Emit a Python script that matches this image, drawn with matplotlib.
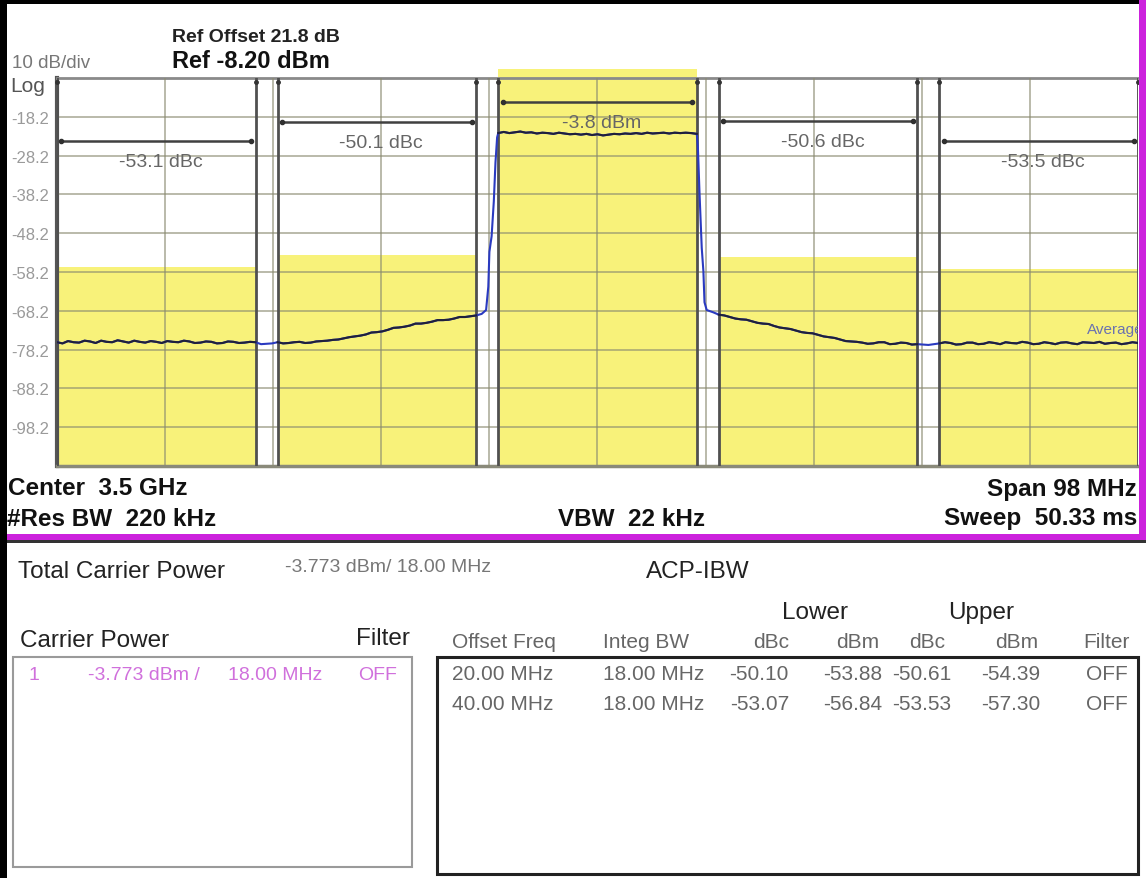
import matplotlib
matplotlib.use("Agg")
import matplotlib.pyplot as plt
import matplotlib.transforms as mtransforms
from matplotlib.patches import Rectangle
import numpy as np

plt.rcParams['font.family'] = ['Liberation Sans', 'DejaVu Sans']

# ---------------- data ----------------
REF_LEVEL = -8.20
DB_PER_DIV = 10
SPAN_MHZ = 98
X_GRID_MHZ = [-49, -39.2, -29.4, -19.6, -9.8, 0, 9.8, 19.6, 29.4, 39.2, 49]
Y_TICK_LABELS = ['-18.2', '-28.2', '-38.2', '-48.2', '-58.2', '-68.2', '-78.2', '-88.2', '-98.2']

BAND_OFFSETS_MHZ = [-40, -20, 0, 20, 40]
INTEG_BW_MHZ = 18.0
CARRIER_DBM = -3.773
BAND_POWER_DBM = [-56.84, -53.88, CARRIER_DBM, -54.39, -57.30]
BAND_DBC = [-53.07, -50.10, None, -50.61, -53.53]
BRACKET_LEVEL = [-24.5, -19.6, -14.4, -19.4, -24.5]

# (frequency offset MHz, level dBm)
TRACE_POINTS = [
    (-49, -76.3), (-48.5, -76.6), (-48, -76.0), (-47.5, -76.3), (-47, -76.4), (-46.5, -75.9),
    (-46, -76.1), (-45.5, -76.5), (-45, -75.9), (-44.5, -76.2), (-44, -76.3), (-43.5, -75.8),
    (-43, -76.1), (-42.5, -76.4), (-42, -75.9), (-41.5, -76.2), (-41, -76.4), (-40.5, -76.0),
    (-40, -76.2), (-39.5, -76.5), (-39, -76.0), (-38.5, -76.2), (-38, -76.3), (-37.5, -75.9),
    (-37, -76.1), (-36.5, -76.5), (-36, -76.4), (-35.5, -76.1), (-35, -76.2), (-34.5, -76.6),
    (-34, -76.5), (-33.5, -76.1), (-33, -76.2), (-32.5, -76.5), (-32, -76.4), (-31.5, -76.2),
    (-31, -76.3), (-30.5, -76.8), (-30, -76.7), (-29.5, -76.6), (-29, -76.3), (-28.5, -76.6),
    (-28, -76.5), (-27.5, -76.3), (-27, -76.2), (-26.5, -76.5), (-26, -76.4), (-25.5, -76.1),
    (-25, -76.0), (-24.5, -75.9), (-24, -75.7), (-23.5, -75.6), (-23, -75.3), (-22.5, -75.0),
    (-22, -74.8), (-21.5, -74.6), (-21, -74.3), (-20.5, -73.8), (-20, -73.7), (-19.5, -73.5),
    (-19, -73.1), (-18.5, -72.6), (-18, -72.5), (-17.5, -72.3), (-17, -72.0), (-16.5, -71.5),
    (-16, -71.5), (-15.5, -71.3), (-15, -71.0), (-14.5, -70.6), (-14, -70.6), (-13.5, -70.5),
    (-13, -70.2), (-12.5, -69.8), (-12, -69.8), (-11.5, -69.6), (-11, -69.4), (-10.5, -69.0),
    (-10.1, -68.0), (-9.9, -62.0), (-9.8, -53.0), (-9.6, -49.0), (-9.4, -40.0),
    (-9.25, -30.0), (-9.1, -23.5), (-9.0, -22.4),
    (-8.5, -22.1), (-8, -22.4), (-7.5, -22.2), (-7, -22.0), (-6.5, -22.3), (-6, -22.2),
    (-5.5, -22.5), (-5, -22.3), (-4.5, -22.4), (-4, -22.6), (-3.5, -22.3), (-3, -22.5),
    (-2.5, -22.7), (-2, -22.6), (-1.5, -22.8), (-1, -22.6), (-0.5, -22.9), (0, -22.7),
    (0.5, -23.0), (1, -22.8), (1.5, -22.6), (2, -22.7), (2.5, -22.5), (3, -22.6),
    (3.5, -22.4), (4, -22.6), (4.5, -22.3), (5, -22.5), (5.5, -22.4), (6, -22.3),
    (6.5, -22.5), (7, -22.3), (7.5, -22.4), (8, -22.3), (8.5, -22.4), (9.0, -22.6),
    (9.1, -26.0), (9.25, -38.0), (9.45, -52.0), (9.6, -58.0), (9.7, -66.0), (9.9, -68.0),
    (10.5, -68.6), (11, -69.2), (11.5, -69.4), (12, -69.8), (12.5, -70.2), (13, -70.4),
    (13.5, -70.5), (14, -70.9), (14.5, -71.3), (15, -71.5), (15.5, -71.6), (16, -72.1),
    (16.5, -72.5), (17, -72.7), (17.5, -72.9), (18, -73.3), (18.5, -73.7), (19, -73.9),
    (19.5, -74.0), (20, -74.4), (20.5, -74.8), (21, -75.0), (21.5, -75.2), (22, -75.6),
    (22.5, -76.0), (23, -76.1), (23.5, -76.2), (24, -76.4), (24.5, -76.7), (25, -76.6),
    (25.5, -76.3), (26, -76.3), (26.5, -76.8), (27, -76.7), (27.5, -76.4), (28, -76.5),
    (28.5, -76.9), (29, -76.8), (29.5, -76.9), (30, -77.0), (30.5, -76.8), (31, -76.6),
    (31.5, -76.3), (32, -76.5), (32.5, -76.9), (33, -76.8), (33.5, -76.4), (34, -76.4),
    (34.5, -76.8), (35, -76.7), (35.5, -76.3), (36, -76.5), (36.5, -76.8), (37, -76.3),
    (37.5, -76.5), (38, -76.6), (38.5, -76.2), (39, -76.4), (39.5, -76.8), (40, -76.7),
    (40.5, -76.3), (41, -76.5), (41.5, -76.8), (42, -76.4), (42.5, -76.3), (43, -76.6),
    (43.5, -76.8), (44, -76.3), (44.5, -76.4), (45, -76.5), (45.5, -76.2), (46, -76.7),
    (46.5, -76.5), (47, -76.4), (47.5, -76.8), (48, -76.6), (48.5, -76.3), (49, -76.5),
]
TRACE_FREQ = [p[0] for p in TRACE_POINTS]
TRACE_LEVEL = [p[1] for p in TRACE_POINTS]

OFFSET_FREQ_LABELS = ['20.00 MHz', '40.00 MHz']
INTEG_BW_LABELS = ['18.00 MHz', '18.00 MHz']
LOWER_DBC = [-50.10, -53.07]
LOWER_DBM = [-53.88, -56.84]
UPPER_DBC = [-50.61, -53.53]
UPPER_DBM = [-54.39, -57.30]
FILTER_STATE = ['OFF', 'OFF']

# ---------------- figure ----------------
W, H = 1146, 879
fig = plt.figure(figsize=(W / 100, H / 100), dpi=100)
fig.patch.set_facecolor('white')


def fx(x):
    return x / W


def fy(y):
    return 1 - y / H


def ftext(x, y, s, **kw):
    fig.text(fx(x), fy(y), s, **kw)


ax = fig.add_axes([fx(57), fy(467), fx(1138 - 57), (467 - 79) / H])
half = SPAN_MHZ / 2
ax.set_xlim(-half, half)
ytop = REF_LEVEL
ybot = REF_LEVEL - 10 * DB_PER_DIV
ax.set_ylim(ybot, ytop)
ax.set_xticks(X_GRID_MHZ)
ax.set_yticks([float(v) for v in Y_TICK_LABELS])
ax.tick_params(length=0, labelbottom=False, labelleft=False)
ax.set_axisbelow(False)
ax.grid(True, color='#8a8a70', lw=1.1, alpha=0.75)
ax.set_facecolor('white')
ax.spines['right'].set_visible(False)
ax.spines['left'].set_color('#555555')
ax.spines['left'].set_linewidth(3)
ax.spines['top'].set_color('#8a8a8a')
ax.spines['top'].set_linewidth(2)
ax.spines['bottom'].set_color('#8a8a7a')
ax.spines['bottom'].set_linewidth(2.5)

# yellow integration bands
yellow = '#f8f27a'
for off, pwr in zip(BAND_OFFSETS_MHZ, BAND_POWER_DBM):
    top = min(pwr, ytop + 2.3)
    ax.bar(off, top - ybot, bottom=ybot, width=INTEG_BW_MHZ, color=yellow,
           edgecolor='none', zorder=1, clip_on=False)

# band edge lines, brackets and labels
for i, (off, lvl) in enumerate(zip(BAND_OFFSETS_MHZ, BRACKET_LEVEL)):
    lo = off - INTEG_BW_MHZ / 2
    hi = off + INTEG_BW_MHZ / 2
    for e in (lo, hi):
        ax.axvline(e, color='#505050', lw=2, zorder=3)
        ax.plot([e], [ytop - 1.0], marker='o', ms=2.5, color='#333333', zorder=6, clip_on=False)
    ax.plot([lo + 0.4, hi - 0.4], [lvl, lvl], color='#404040', lw=1.8, zorder=6)
    ax.plot([lo + 0.4, hi - 0.4], [lvl, lvl], ls='none', marker='o', ms=3, color='#303030', zorder=6)
    if BAND_DBC[i] is None:
        lab = f'{BAND_POWER_DBM[i]:.1f} dBm'
    else:
        lab = f'{BAND_DBC[i]:.1f} dBc'
    ax.text(off + 0.4, lvl - 5.2, lab, ha='center', va='center', fontsize=14,
            color='#666666', zorder=7)

# trace
F = np.array(TRACE_FREQ)
L = np.array(TRACE_LEVEL)
ax.plot(F, L, color='#2a3ac0', lw=1.5, zorder=8)
for off in BAND_OFFSETS_MHZ:
    lo = off - INTEG_BW_MHZ / 2
    hi = off + INTEG_BW_MHZ / 2
    m = (F >= lo) & (F <= hi)
    ax.plot(F[m], L[m], color='#20203a', lw=1.5, zorder=9)

ax.text(44.4, -73.0, 'Average', color='#6a72b0', fontsize=11, va='center', ha='left',
        clip_on=True, zorder=10)

# y tick labels at left of figure, placed in data coords
trans = mtransforms.blended_transform_factory(fig.transFigure, ax.transData)
for lab in Y_TICK_LABELS:
    fig.text(fx(11), float(lab) - 0.4, lab, transform=trans, ha='left', va='center',
             fontsize=12, color='#9a9a9a')

# header texts
ftext(12, 64, '10 dB/div', fontsize=13.5, color='#777777', va='center')
ftext(10, 87, 'Log', fontsize=15, color='#555555', va='center')
ftext(172, 37, 'Ref Offset 21.8 dB', fontsize=14, fontweight='bold', color='#222222', va='center')
ftext(172, 62, 'Ref -8.20 dBm', fontsize=17, fontweight='bold', color='#111111', va='center')

# settings line
bold = dict(fontsize=17.5, fontweight='bold', color='#111111', va='center')
ftext(8, 489, 'Center  3.5 GHz', ha='left', **bold)
ftext(7, 519, '#Res BW  220 kHz', ha='left', **bold)
ftext(632, 519, 'VBW  22 kHz', ha='center', **bold)
ftext(1137, 490, 'Span 98 MHz', ha='right', **bold)
ftext(1137, 519, 'Sweep  50.33 ms', ha='right', **bold)


# panel borders
def frect(x0, y0, x1, y1, **kw):
    fig.add_artist(Rectangle((fx(x0), fy(y1)), (x1 - x0) / W, (y1 - y0) / H,
                             transform=fig.transFigure, **kw))


frect(0, 0, 7, H, color='black', lw=0)
frect(0, 0, 1139, 5, color='black', lw=0)
frect(1139, 0, W, 541, color='#cc22dd', lw=0)
frect(7, 535, W, 541, color='#cc22dd', lw=0)
frect(7, 541, W, 544, color='#333333', lw=0)

# ---------------- lower panel ----------------
black = dict(fontsize=17.5, color='#222222', va='center')
gray = dict(fontsize=15, color='#666666', va='center')
ftext(18, 572, 'Total Carrier Power', ha='left', **black)
ftext(285, 568, f'{CARRIER_DBM:.3f} dBm/ {INTEG_BW_MHZ:.2f} MHz', ha='left', fontsize=14,
      color='#777777', va='center')
ftext(698, 572, 'ACP-IBW', ha='center', **black)
ftext(20, 641, 'Carrier Power', ha='left', **black)
ftext(410, 639, 'Filter', ha='right', **black)
ftext(815, 613, 'Lower', ha='center', **black)
ftext(981, 613, 'Upper', ha='center', **black)

frect(13, 658, 412, 868, fill=False, ec='#9a9a9a', lw=1.5)
frect(437, 658, 1138, 875, fill=False, ec='#222222', lw=2.2)

pink = dict(fontsize=14, color='#d070dc', va='center')
ftext(28, 676, '1', ha='left', **pink)
ftext(88, 676, f'{CARRIER_DBM:.3f} dBm /', ha='left', **pink)
ftext(228, 676, f'{INTEG_BW_MHZ:.2f} MHz', ha='left', **pink)
ftext(358, 676, 'OFF', ha='left', **pink)

hdr_y = 643
ftext(452, hdr_y, 'Offset Freq', ha='left', **gray)
ftext(603, hdr_y, 'Integ BW', ha='left', **gray)
ftext(789, hdr_y, 'dBc', ha='right', **gray)
ftext(879, hdr_y, 'dBm', ha='right', **gray)
ftext(945, hdr_y, 'dBc', ha='right', **gray)
ftext(1038, hdr_y, 'dBm', ha='right', **gray)
ftext(1130, hdr_y, 'Filter', ha='right', **gray)

row_y = [674, 705]
for i, y in enumerate(row_y):
    ftext(452, y, OFFSET_FREQ_LABELS[i], ha='left', **gray)
    ftext(603, y, INTEG_BW_LABELS[i], ha='left', **gray)
    ftext(789, y, f'{LOWER_DBC[i]:.2f}', ha='right', **gray)
    ftext(882, y, f'{LOWER_DBM[i]:.2f}', ha='right', **gray)
    ftext(951, y, f'{UPPER_DBC[i]:.2f}', ha='right', **gray)
    ftext(1040, y, f'{UPPER_DBM[i]:.2f}', ha='right', **gray)
    ftext(1086, y, FILTER_STATE[i], ha='left', **gray)

fig.savefig('out.png', dpi=100)
